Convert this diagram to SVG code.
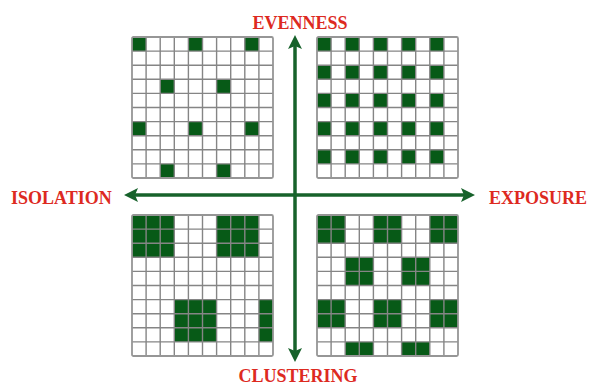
<svg xmlns="http://www.w3.org/2000/svg" xmlns:xlink="http://www.w3.org/1999/xlink" width="589" height="386" viewBox="0 0 589 386">
<style>
.lbl{font-family:"Liberation Serif","Times New Roman",serif;font-weight:bold;font-size:18px;fill:#dd2a1f}
.fill{fill:#075a17}
.gl{fill:none;stroke:#858585;stroke-width:1.4}
.frame{fill:none;stroke:#969696;stroke-width:1.8}
.axis{stroke:#17622b;stroke-width:3.5;fill:none}
</style>
<defs>
<marker id="ah" viewBox="0 0 14 14" refX="3" refY="7" markerWidth="14" markerHeight="14" markerUnits="userSpaceOnUse" orient="auto-start-reverse">
<path d="M0,0 L14,7 L0,14 L3,7 z" fill="#17622b"/>
</marker>
<g id="grid">
<path class="gl" d="M0 14.1H141M0 28.2H141M0 42.3H141M0 56.4H141M0 70.5H141M0 84.6H141M0 98.7H141M0 112.8H141M0 126.9H141M14.1 0V141M28.2 0V141M42.3 0V141M56.4 0V141M70.5 0V141M84.6 0V141M98.7 0V141M112.8 0V141M126.9 0V141"/>
<rect class="frame" x="0" y="0" width="141" height="141" rx="1.5"/>
</g>
</defs>
<rect width="589" height="386" fill="#ffffff"/>

<g id="evenness-isolation" transform="translate(132,37)">
<g class="fill">
<rect x="0" y="0" width="14.1" height="14.1"/><rect x="56.4" y="0" width="14.1" height="14.1"/><rect x="112.8" y="0" width="14.1" height="14.1"/>
<rect x="28.2" y="42.3" width="14.1" height="14.1"/><rect x="84.6" y="42.3" width="14.1" height="14.1"/>
<rect x="0" y="84.6" width="14.1" height="14.1"/><rect x="56.4" y="84.6" width="14.1" height="14.1"/><rect x="112.8" y="84.6" width="14.1" height="14.1"/>
<rect x="28.2" y="126.9" width="14.1" height="14.1"/><rect x="84.6" y="126.9" width="14.1" height="14.1"/>
</g>
<use xlink:href="#grid"/>
</g>

<g id="evenness-exposure" transform="translate(317,37)">
<g class="fill">
<rect x="0" y="0" width="14.1" height="14.1"/><rect x="28.2" y="0" width="14.1" height="14.1"/><rect x="56.4" y="0" width="14.1" height="14.1"/><rect x="84.6" y="0" width="14.1" height="14.1"/><rect x="112.8" y="0" width="14.1" height="14.1"/>
<rect x="0" y="28.2" width="14.1" height="14.1"/><rect x="28.2" y="28.2" width="14.1" height="14.1"/><rect x="56.4" y="28.2" width="14.1" height="14.1"/><rect x="84.6" y="28.2" width="14.1" height="14.1"/><rect x="112.8" y="28.2" width="14.1" height="14.1"/>
<rect x="0" y="56.4" width="14.1" height="14.1"/><rect x="28.2" y="56.4" width="14.1" height="14.1"/><rect x="56.4" y="56.4" width="14.1" height="14.1"/><rect x="84.6" y="56.4" width="14.1" height="14.1"/><rect x="112.8" y="56.4" width="14.1" height="14.1"/>
<rect x="0" y="84.6" width="14.1" height="14.1"/><rect x="28.2" y="84.6" width="14.1" height="14.1"/><rect x="56.4" y="84.6" width="14.1" height="14.1"/><rect x="84.6" y="84.6" width="14.1" height="14.1"/><rect x="112.8" y="84.6" width="14.1" height="14.1"/>
<rect x="0" y="112.8" width="14.1" height="14.1"/><rect x="28.2" y="112.8" width="14.1" height="14.1"/><rect x="56.4" y="112.8" width="14.1" height="14.1"/><rect x="84.6" y="112.8" width="14.1" height="14.1"/><rect x="112.8" y="112.8" width="14.1" height="14.1"/>
</g>
<use xlink:href="#grid"/>
</g>

<g id="clustering-isolation" transform="translate(132,215)">
<g class="fill">
<rect x="0" y="0" width="42.3" height="42.3"/><rect x="84.6" y="0" width="42.3" height="42.3"/>
<rect x="42.3" y="84.6" width="42.3" height="42.3"/><rect x="126.9" y="84.6" width="14.1" height="42.3"/>
</g>
<use xlink:href="#grid"/>
</g>

<g id="clustering-exposure" transform="translate(317,215)">
<g class="fill">
<rect x="0" y="0" width="28.2" height="28.2"/><rect x="56.4" y="0" width="28.2" height="28.2"/><rect x="112.8" y="0" width="28.2" height="28.2"/>
<rect x="28.2" y="42.3" width="28.2" height="28.2"/><rect x="84.6" y="42.3" width="28.2" height="28.2"/>
<rect x="0" y="84.6" width="28.2" height="28.2"/><rect x="56.4" y="84.6" width="28.2" height="28.2"/><rect x="112.8" y="84.6" width="28.2" height="28.2"/>
<rect x="28.2" y="126.9" width="28.2" height="14.1"/><rect x="84.6" y="126.9" width="28.2" height="14.1"/>
</g>
<use xlink:href="#grid"/>
</g>

<g id="connectors">
<line class="axis" x1="295" y1="46" x2="295" y2="351" marker-start="url(#ah)" marker-end="url(#ah)"/>
<line class="axis" x1="135" y1="195" x2="464" y2="195" marker-start="url(#ah)" marker-end="url(#ah)"/>
</g>

<g id="labels">
<text id="lbl-evenness" class="lbl" x="300" y="29" text-anchor="middle">EVENNESS</text>
<text id="lbl-isolation" class="lbl" x="11" y="204">ISOLATION</text>
<text id="lbl-exposure" class="lbl" x="489" y="204">EXPOSURE</text>
<text id="lbl-clustering" class="lbl" x="298" y="382" text-anchor="middle">CLUSTERING</text>
</g>
</svg>
